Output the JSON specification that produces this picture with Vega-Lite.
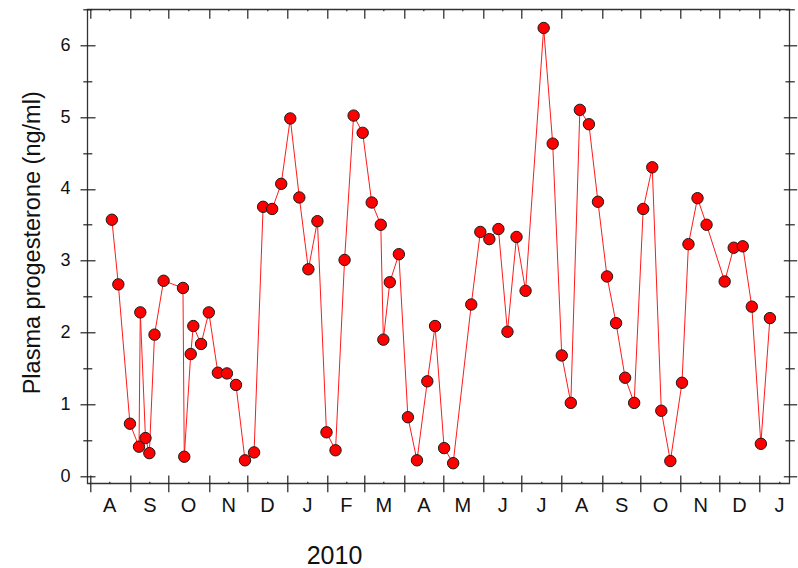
{
  "$schema": "https://vega.github.io/schema/vega-lite/v6.json",
  "autosize": {"type": "none"},
  "padding": {"left": 87.3, "top": 9.3, "right": 8.7, "bottom": 84.7},
  "width": 702,
  "height": 474,
  "background": "#ffffff",
  "config": {
    "view": {"stroke": "#333333", "strokeWidth": 1.3},
    "axis": {
      "grid": false,
      "domain": false,
      "labelFont": "Liberation Sans",
      "titleFont": "Liberation Sans",
      "labelColor": "#111111",
      "titleColor": "#111111",
      "titleFontWeight": "normal",
      "tickColor": "#222222",
      "tickWidth": 1.2,
      "labelOverlap": false,
      "labelFlush": false,
      "labelBound": false
    }
  },
  "data": {
    "values": [
      {"date": "2009-08-18", "p": 3.57},
      {"date": "2009-08-23", "p": 2.67},
      {"date": "2009-09-01", "p": 0.73},
      {"date": "2009-09-08", "p": 0.41},
      {"date": "2009-09-09", "p": 2.28},
      {"date": "2009-09-13", "p": 0.53},
      {"date": "2009-09-16", "p": 0.32},
      {"date": "2009-09-20", "p": 1.97},
      {"date": "2009-09-27", "p": 2.72},
      {"date": "2009-10-12", "p": 2.62},
      {"date": "2009-10-13", "p": 0.27},
      {"date": "2009-10-18", "p": 1.70},
      {"date": "2009-10-20", "p": 2.09},
      {"date": "2009-10-26", "p": 1.84},
      {"date": "2009-11-01", "p": 2.28},
      {"date": "2009-11-08", "p": 1.44},
      {"date": "2009-11-15", "p": 1.43},
      {"date": "2009-11-22", "p": 1.27},
      {"date": "2009-11-29", "p": 0.22},
      {"date": "2009-12-06", "p": 0.33},
      {"date": "2009-12-13", "p": 3.75},
      {"date": "2009-12-20", "p": 3.72},
      {"date": "2009-12-27", "p": 4.07},
      {"date": "2010-01-03", "p": 4.98},
      {"date": "2010-01-10", "p": 3.88},
      {"date": "2010-01-17", "p": 2.88},
      {"date": "2010-01-24", "p": 3.55},
      {"date": "2010-01-31", "p": 0.61},
      {"date": "2010-02-07", "p": 0.36},
      {"date": "2010-02-14", "p": 3.01},
      {"date": "2010-02-21", "p": 5.02},
      {"date": "2010-02-28", "p": 4.78},
      {"date": "2010-03-07", "p": 3.81},
      {"date": "2010-03-14", "p": 3.50},
      {"date": "2010-03-16", "p": 1.90},
      {"date": "2010-03-21", "p": 2.70},
      {"date": "2010-03-28", "p": 3.09},
      {"date": "2010-04-04", "p": 0.82},
      {"date": "2010-04-11", "p": 0.22},
      {"date": "2010-04-19", "p": 1.32},
      {"date": "2010-04-25", "p": 2.09},
      {"date": "2010-05-02", "p": 0.39},
      {"date": "2010-05-09", "p": 0.18},
      {"date": "2010-05-23", "p": 2.39},
      {"date": "2010-05-30", "p": 3.40},
      {"date": "2010-06-06", "p": 3.30},
      {"date": "2010-06-13", "p": 3.44},
      {"date": "2010-06-20", "p": 2.01},
      {"date": "2010-06-27", "p": 3.33},
      {"date": "2010-07-04", "p": 2.58},
      {"date": "2010-07-18", "p": 6.24},
      {"date": "2010-07-25", "p": 4.63},
      {"date": "2010-08-01", "p": 1.68},
      {"date": "2010-08-08", "p": 1.02},
      {"date": "2010-08-15", "p": 5.10},
      {"date": "2010-08-22", "p": 4.90},
      {"date": "2010-08-29", "p": 3.82},
      {"date": "2010-09-05", "p": 2.78},
      {"date": "2010-09-12", "p": 2.13},
      {"date": "2010-09-19", "p": 1.37},
      {"date": "2010-09-26", "p": 1.02},
      {"date": "2010-10-03", "p": 3.72},
      {"date": "2010-10-10", "p": 4.30},
      {"date": "2010-10-17", "p": 0.91},
      {"date": "2010-10-24", "p": 0.21},
      {"date": "2010-11-02", "p": 1.30},
      {"date": "2010-11-07", "p": 3.23},
      {"date": "2010-11-14", "p": 3.87},
      {"date": "2010-11-21", "p": 3.50},
      {"date": "2010-12-05", "p": 2.71},
      {"date": "2010-12-12", "p": 3.18},
      {"date": "2010-12-19", "p": 3.20},
      {"date": "2010-12-26", "p": 2.36},
      {"date": "2011-01-02", "p": 0.45},
      {"date": "2011-01-09", "p": 2.20}
    ]
  },
  "resolve": {"axis": {"x": "independent", "y": "independent"}},
  "layer": [
    {
      "mark": {"type": "line", "color": "#ff1a1a", "strokeWidth": 1},
      "encoding": {
        "x": {
          "field": "date",
          "type": "temporal",
          "scale": {
            "type": "utc",
            "domain": [
              {"year": 2009, "month": 7, "date": 30, "utc": true},
              {"year": 2011, "month": 1, "date": 24, "utc": true}
            ]
          },
          "axis": {
            "orient": "bottom",
            "title": null,
            "offset": -2,
            "tickSize": 2,
            "labelPadding": 12,
            "labelFontSize": 20,
            "values": [
              {"year": 2009, "month": 8, "date": 16, "utc": true},
              {"year": 2009, "month": 9, "date": 16, "utc": true},
              {"year": 2009, "month": 10, "date": 16, "utc": true},
              {"year": 2009, "month": 11, "date": 16, "utc": true},
              {"year": 2009, "month": 12, "date": 16, "utc": true},
              {"year": 2010, "month": 1, "date": 16, "utc": true},
              {"year": 2010, "month": 2, "date": 15, "utc": true},
              {"year": 2010, "month": 3, "date": 16, "utc": true},
              {"year": 2010, "month": 4, "date": 16, "utc": true},
              {"year": 2010, "month": 5, "date": 16, "utc": true},
              {"year": 2010, "month": 6, "date": 16, "utc": true},
              {"year": 2010, "month": 7, "date": 16, "utc": true},
              {"year": 2010, "month": 8, "date": 16, "utc": true},
              {"year": 2010, "month": 9, "date": 16, "utc": true},
              {"year": 2010, "month": 10, "date": 16, "utc": true},
              {"year": 2010, "month": 11, "date": 16, "utc": true},
              {"year": 2010, "month": 12, "date": 16, "utc": true},
              {"year": 2011, "month": 1, "date": 16, "utc": true}
            ],
            "labelExpr": "substring(utcFormat(datum.value, '%b'), 0, 1)"
          }
        },
        "y": {
          "field": "p",
          "type": "quantitative",
          "scale": {"domain": [-0.1, 6.5], "nice": false, "zero": false},
          "axis": {
            "orient": "left",
            "title": "Plasma progesterone (ng/ml)",
            "titleFontSize": 23.5,
            "titleX": -51,
            "titleY": 233,
            "titleAngle": -90,
            "titleBaseline": "bottom",
            "titleAlign": "center",
            "offset": -7.7,
            "tickSize": 15,
            "labelPadding": 10,
            "labelFontSize": 18,
            "values": [0, 1, 2, 3, 4, 5, 6]
          }
        }
      }
    },
    {
      "mark": {"type": "point", "filled": true, "size": 130, "color": "#ff0000", "opacity": 1, "stroke": "#1a1a1a", "strokeWidth": 1},
      "encoding": {
        "x": {
          "field": "date",
          "type": "temporal",
          "axis": {
            "orient": "bottom",
            "title": "2010",
            "titleFontSize": 25,
            "titleX": 246.7,
            "titleY": 88,
            "titleBaseline": "alphabetic",
            "titleAlign": "center",
            "offset": -8.3,
            "tickSize": 16.7,
            "labels": false,
            "values": [
              {"year": 2009, "month": 8, "date": 1, "utc": true},
              {"year": 2009, "month": 9, "date": 1, "utc": true},
              {"year": 2009, "month": 10, "date": 1, "utc": true},
              {"year": 2009, "month": 11, "date": 1, "utc": true},
              {"year": 2009, "month": 12, "date": 1, "utc": true},
              {"year": 2010, "month": 1, "date": 1, "utc": true},
              {"year": 2010, "month": 2, "date": 1, "utc": true},
              {"year": 2010, "month": 3, "date": 1, "utc": true},
              {"year": 2010, "month": 4, "date": 1, "utc": true},
              {"year": 2010, "month": 5, "date": 1, "utc": true},
              {"year": 2010, "month": 6, "date": 1, "utc": true},
              {"year": 2010, "month": 7, "date": 1, "utc": true},
              {"year": 2010, "month": 8, "date": 1, "utc": true},
              {"year": 2010, "month": 9, "date": 1, "utc": true},
              {"year": 2010, "month": 10, "date": 1, "utc": true},
              {"year": 2010, "month": 11, "date": 1, "utc": true},
              {"year": 2010, "month": 12, "date": 1, "utc": true},
              {"year": 2011, "month": 1, "date": 1, "utc": true}
            ]
          }
        },
        "y": {
          "field": "p",
          "type": "quantitative",
          "axis": {
            "orient": "left",
            "title": null,
            "offset": -4.5,
            "tickSize": 9,
            "labels": false,
            "values": [0.5, 1.5, 2.5, 3.5, 4.5, 5.5, 6.5]
          }
        }
      }
    },
    {
      "mark": {"type": "point", "opacity": 0},
      "encoding": {
        "x": {
          "field": "date",
          "type": "temporal",
          "axis": {
            "orient": "top",
            "title": null,
            "offset": -9,
            "tickSize": 9,
            "labels": false,
            "values": [
              {"year": 2009, "month": 8, "date": 1, "utc": true},
              {"year": 2009, "month": 9, "date": 1, "utc": true},
              {"year": 2009, "month": 10, "date": 1, "utc": true},
              {"year": 2009, "month": 11, "date": 1, "utc": true},
              {"year": 2009, "month": 12, "date": 1, "utc": true},
              {"year": 2010, "month": 1, "date": 1, "utc": true},
              {"year": 2010, "month": 2, "date": 1, "utc": true},
              {"year": 2010, "month": 3, "date": 1, "utc": true},
              {"year": 2010, "month": 4, "date": 1, "utc": true},
              {"year": 2010, "month": 5, "date": 1, "utc": true},
              {"year": 2010, "month": 6, "date": 1, "utc": true},
              {"year": 2010, "month": 7, "date": 1, "utc": true},
              {"year": 2010, "month": 8, "date": 1, "utc": true},
              {"year": 2010, "month": 9, "date": 1, "utc": true},
              {"year": 2010, "month": 10, "date": 1, "utc": true},
              {"year": 2010, "month": 11, "date": 1, "utc": true},
              {"year": 2010, "month": 12, "date": 1, "utc": true},
              {"year": 2011, "month": 1, "date": 1, "utc": true}
            ]
          }
        },
        "y": {
          "field": "p",
          "type": "quantitative",
          "axis": {
            "orient": "right",
            "title": null,
            "offset": -6,
            "tickSize": 13.4,
            "labels": false,
            "values": [0, 1, 2, 3, 4, 5, 6]
          }
        }
      }
    },
    {
      "mark": {"type": "point", "opacity": 0},
      "encoding": {
        "x": {
          "field": "date",
          "type": "temporal",
          "axis": {
            "orient": "top",
            "title": null,
            "offset": -1.5,
            "tickSize": 1.5,
            "labels": false,
            "values": [
              {"year": 2009, "month": 8, "date": 16, "utc": true},
              {"year": 2009, "month": 9, "date": 16, "utc": true},
              {"year": 2009, "month": 10, "date": 16, "utc": true},
              {"year": 2009, "month": 11, "date": 16, "utc": true},
              {"year": 2009, "month": 12, "date": 16, "utc": true},
              {"year": 2010, "month": 1, "date": 16, "utc": true},
              {"year": 2010, "month": 2, "date": 15, "utc": true},
              {"year": 2010, "month": 3, "date": 16, "utc": true},
              {"year": 2010, "month": 4, "date": 16, "utc": true},
              {"year": 2010, "month": 5, "date": 16, "utc": true},
              {"year": 2010, "month": 6, "date": 16, "utc": true},
              {"year": 2010, "month": 7, "date": 16, "utc": true},
              {"year": 2010, "month": 8, "date": 16, "utc": true},
              {"year": 2010, "month": 9, "date": 16, "utc": true},
              {"year": 2010, "month": 10, "date": 16, "utc": true},
              {"year": 2010, "month": 11, "date": 16, "utc": true},
              {"year": 2010, "month": 12, "date": 16, "utc": true},
              {"year": 2011, "month": 1, "date": 16, "utc": true}
            ]
          }
        },
        "y": {
          "field": "p",
          "type": "quantitative",
          "axis": {
            "orient": "right",
            "title": null,
            "offset": -4.3,
            "tickSize": 9.3,
            "labels": false,
            "values": [0.5, 1.5, 2.5, 3.5, 4.5, 5.5, 6.5]
          }
        }
      }
    }
  ]
}
